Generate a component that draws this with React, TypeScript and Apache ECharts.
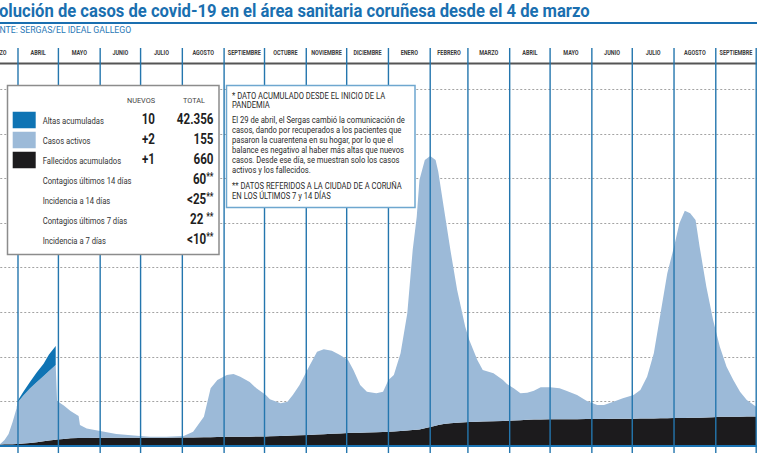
import React, { useEffect, useRef } from "react";
import * as echarts from "echarts";

// ---------- DATA ----------
const DATES = [
  "2020-03-16", "2020-03-19", "2020-03-22", "2020-03-25", "2020-03-28", "2020-03-31",
  "2020-04-01", "2020-04-05", "2020-04-10", "2020-04-15", "2020-04-20", "2020-04-24", "2020-04-29",
  "2020-04-30", "2020-05-05", "2020-05-10", "2020-05-16", "2020-05-17", "2020-05-22",
  "2020-06-01", "2020-06-13", "2020-06-26", "2020-07-03", "2020-07-08", "2020-07-20",
  "2020-08-02", "2020-08-09", "2020-08-17", "2020-08-22", "2020-08-27",
  "2020-09-03", "2020-09-08", "2020-09-13", "2020-09-20", "2020-09-25",
  "2020-10-02", "2020-10-05", "2020-10-13", "2020-10-18", "2020-10-22", "2020-10-27",
  "2020-11-03", "2020-11-09", "2020-11-14", "2020-11-20", "2020-11-26",
  "2020-12-02", "2020-12-06", "2020-12-11", "2020-12-16", "2020-12-23", "2020-12-28",
  "2021-01-01", "2021-01-05", "2021-01-10", "2021-01-15", "2021-01-19", "2021-01-22", "2021-01-24", "2021-01-28",
  "2021-02-01", "2021-02-05", "2021-02-07", "2021-02-11", "2021-02-16", "2021-02-21", "2021-02-27",
  "2021-03-02", "2021-03-08", "2021-03-12", "2021-03-20", "2021-03-27", "2021-03-30",
  "2021-04-04", "2021-04-09", "2021-04-14", "2021-04-19", "2021-04-24",
  "2021-05-01", "2021-05-08", "2021-05-13", "2021-05-21", "2021-05-28",
  "2021-06-05", "2021-06-10", "2021-06-17", "2021-06-24",
  "2021-07-02", "2021-07-07", "2021-07-12", "2021-07-17", "2021-07-22", "2021-07-27",
  "2021-08-01", "2021-08-05", "2021-08-09", "2021-08-13", "2021-08-17", "2021-08-20", "2021-08-25", "2021-08-30",
  "2021-09-04", "2021-09-09", "2021-09-14", "2021-09-19", "2021-09-24", "2021-10-01",
];

const FALLECIDOS = [
  32, 34, 37, 39, 42, 44,
  45, 55, 68, 86, 106, 123, 141,
  144, 159, 171, 179, 180, 182,
  186, 186, 186, 186, 186, 186,
  188, 190, 194, 196, 199,
  206, 207, 208, 210, 211,
  213, 217, 224, 229, 233, 239,
  248, 258, 265, 274, 283,
  291, 295, 299, 304, 311, 316,
  320, 327, 338, 349, 360, 365, 370, 398,
  426, 452, 469, 495, 511, 520, 533,
  538, 544, 547, 555, 562, 566,
  571, 578, 586, 594, 595,
  597, 599, 600, 602, 604,
  605, 607, 609, 610,
  613, 615, 617, 619, 621, 624,
  626, 628, 630, 631, 633, 636, 641, 647,
  655, 656, 657, 658, 659, 660,
];

const ACTIVOS = [
  0, 15, 98, 230, 496, 808,
  941, 1075, 1228, 1351, 1461, 1558, 1675,
  865, 749, 614, 494, 291, 210,
  150, 83, 49, 30, 22, 20,
  36, 131, 463, 1098, 1281,
  1386, 1407, 1346, 1225, 1083,
  930, 830, 733, 764, 910, 1129,
  1530, 1856, 1903, 1863, 1757,
  1637, 1409, 1069, 913, 871, 901,
  1160, 1265, 1740, 2626, 4034, 4776, 5594, 6014,
  6076, 5960, 5681, 4870, 3883, 2978, 2142,
  1839, 1384, 1157, 1075, 918, 824,
  723, 604, 609, 646, 721,
  719, 695, 640, 541, 412,
  314, 312, 384, 459,
  530, 641, 937, 1459, 2354, 3248,
  3842, 4365, 4645, 4586, 4434, 3832, 2931, 2178,
  1571, 1122, 823, 559, 372, 221,
];

// Altas acumuladas: only shown until 29 April 2020
const ALTAS_KNOWN: [string, number][] = [
  ["2020-03-31", 5], ["2020-04-01", 40], ["2020-04-05", 88], ["2020-04-10", 146],
  ["2020-04-15", 217], ["2020-04-20", 276], ["2020-04-24", 370], ["2020-04-29", 426],
];
const ALTAS: (number | null)[] = DATES.map(() => null);
ALTAS_KNOWN.forEach(([d, v]) => { ALTAS[DATES.indexOf(d)] = v; });

const MONTH_STARTS = [
  "2020-03-01", "2020-04-01", "2020-05-01", "2020-06-01", "2020-07-01", "2020-08-01",
  "2020-09-01", "2020-10-01", "2020-11-01", "2020-12-01", "2021-01-01", "2021-02-01",
  "2021-03-01", "2021-04-01", "2021-05-01", "2021-06-01", "2021-07-01", "2021-08-01",
  "2021-09-01", "2021-10-01",
];
const MONTH_NAMES = [
  "ENERO", "FEBRERO", "MARZO", "ABRIL", "MAYO", "JUNIO", "JULIO", "AGOSTO",
  "SEPTIEMBRE", "OCTUBRE", "NOVIEMBRE", "DICIEMBRE",
];
const AXIS_START = "2020-03-04T00:00:00Z";
const AXIS_END = "2021-10-01T12:00:00Z";

const TITLE = "olución de casos de covid-19 en el área sanitaria coruñesa desde el 4 de marzo";
const SOURCE = "NTE: SERGAS/EL IDEAL GALLEGO";
const LEGEND_HEADERS = ["NUEVOS", "TOTAL"];
const LEGEND_ROWS = [
  { label: "Altas acumuladas", nuevos: "10", total: "42.356" },
  { label: "Casos activos", nuevos: "+2", total: "155" },
  { label: "Fallecidos acumulados", nuevos: "+1", total: "660" },
];
const INDICATORS = [
  { label: "Contagios últimos 14 días", value: "60", mark: "**" },
  { label: "Incidencia a 14 días", value: "<25", mark: "**" },
  { label: "Contagios últimos 7 días", value: "22 ", mark: "**" },
  { label: "Incidencia a 7 días", value: "<10", mark: "**" },
];
const NOTE_LINES = [
  "* DATO ACUMULADO DESDE EL INICIO DE LA",
  "PANDEMIA",
  "El 29 de abril, el Sergas cambió la comunicación de",
  "casos, dando por recuperados a los pacientes que",
  "pasaron la cuarentena en su hogar, por lo que el",
  "balance es negativo al haber más altas que nuevos",
  "casos. Desde ese día, se muestran solo los casos",
  "activos y los fallecidos.",
  "** DATOS REFERIDOS A LA CIUDAD DE A CORUÑA",
  "EN LOS ÚLTIMOS 7 y 14 DÍAS",
];

// ---------- STYLE ----------
const C_ALTAS = "#0f74b4";
const C_ACTIVOS = "#9cbad8";
const C_FALL = "#1c1b1d";
const C_BLUE = "#1a6fb0";
const C_LINE = "#2476ae";
const FONT = "Roboto, 'Noto Sans', sans-serif";

const ts = (d: string) => Date.parse(d.length === 10 ? d + "T00:00:00Z" : d);

function fit(text: string, size: number, weight: string, target: number) {
  const ctx = document.createElement("canvas").getContext("2d");
  if (!ctx) return 1;
  ctx.font = `${weight} ${size}px ${FONT}`;
  const w = ctx.measureText(text).width;
  return w > 0 ? target / w : 1;
}

function txt(text: string, x: number, y: number, o: any = {}) {
  return {
    type: "text",
    x,
    y,
    scaleX: o.scaleX ?? 1,
    z: o.z ?? 100,
    silent: true,
    style: {
      text,
      fontSize: o.size ?? 8,
      fontFamily: FONT,
      fontWeight: o.weight ?? "normal",
      fill: o.color ?? "#333",
      align: o.align ?? "left",
      verticalAlign: "middle",
    },
  };
}

export default function App() {
  const ref = useRef<HTMLDivElement>(null);

  useEffect(() => {
    const el = ref.current!;
    const chart = echarts.init(el, undefined, { renderer: "svg" });

    const mk = (vals: (number | null)[]) =>
      DATES.map((d, i) => [ts(d), vals[i] === null ? "-" : vals[i]]);

    const areaSeries = (name: string, vals: (number | null)[], color: string) => ({
      type: "line",
      name,
      stack: "total",
      data: mk(vals),
      symbol: "none",
      showSymbol: false,
      lineStyle: { width: 0 },
      areaStyle: { color, opacity: 1 },
      silent: true,
    });

    chart.setOption({
      animation: false,
      backgroundColor: "#ffffff",
      grid: {
        left: -19.72,
        right: 0.13,
        top: 63.5,
        bottom: 17,
        containLabel: false,
        outerBoundsMode: "none",
      },
      xAxis: {
        type: "time",
        min: ts(AXIS_START),
        max: ts(AXIS_END),
        offset: 1.5,
        z: 3,
        axisLine: { show: true, lineStyle: { color: "#1b74b4", width: 2.2 } },
        axisTick: { show: false },
        axisLabel: { show: false },
        splitLine: { show: false },
      },
      yAxis: {
        type: "value",
        min: 0,
        max: 8576,
        interval: 1000,
        axisLine: { show: false },
        axisTick: { show: false },
        axisLabel: { show: false },
        splitLine: { show: true, lineStyle: { color: "#a3a3a3", width: 1, type: [2, 2] } },
      },
      series: [
        areaSeries("Fallecidos acumulados", FALLECIDOS, C_FALL),
        areaSeries("Casos activos", ACTIVOS, C_ACTIVOS),
        areaSeries("Altas acumuladas", ALTAS, C_ALTAS),
      ],
    });

    const pxT = (t: number) => chart.convertToPixel({ xAxisIndex: 0 }, t) as number;
    const minT = ts(AXIS_START);
    const maxT = ts(AXIS_END);

    const g: any[] = [];

    // header line
    g.push({
      type: "line", z: 40, silent: true,
      shape: { x1: 0, y1: 63.5, x2: 757, y2: 63.5 },
      style: { stroke: "#555555", lineWidth: 2.2 },
    });

    // month dividers
    MONTH_STARTS.forEach((d) => {
      const t = ts(d);
      if (t < minT || t > maxT) return;
      const x = pxT(t);
      g.push({
        type: "line", z: 50, silent: true,
        shape: { x1: x, y1: 48, x2: x, y2: 453 },
        style: { stroke: C_LINE, lineWidth: 1.4 },
      });
    });

    // month labels
    const mScale = fit("SEPTIEMBRE", 7, "bold", 33);
    for (let i = 0; i < MONTH_STARTS.length - 1; i++) {
      const mid = (ts(MONTH_STARTS[i]) + ts(MONTH_STARTS[i + 1])) / 2;
      const x = pxT(mid);
      const name = MONTH_NAMES[new Date(ts(MONTH_STARTS[i])).getUTCMonth()];
      g.push(txt(name, x, 52.5, { size: 7, weight: "bold", color: "#3a3a3a", align: "center", scaleX: mScale }));
    }

    // title
    g.push(txt(TITLE, -1, 10.5, { size: 18, weight: "bold", color: C_BLUE, scaleX: fit(TITLE, 18, "bold", 591) }));
    g.push({
      type: "line", z: 100, silent: true,
      shape: { x1: 0, y1: 23, x2: 757, y2: 23 },
      style: { stroke: C_BLUE, lineWidth: 2 },
    });
    g.push(txt(SOURCE, -0.5, 30, { size: 9.5, color: "#2b79b6", scaleX: fit(SOURCE, 9.5, "normal", 132) }));

    // legend box
    g.push({
      type: "rect", z: 99, silent: true,
      shape: { x: 7.5, y: 85.5, width: 211.5, height: 169 },
      style: { fill: "#ffffff", stroke: "#8c8c8c", lineWidth: 1.5 },
    });
    const hScale = fit("NUEVOS", 8, "normal", 28);
    g.push(txt(LEGEND_HEADERS[0], 141, 100.5, { size: 8, color: "#444", align: "center", scaleX: hScale }));
    g.push(txt(LEGEND_HEADERS[1], 194, 100.5, { size: 8, color: "#444", align: "center", scaleX: hScale }));
    const lScale = fit("Contagios últimos 14 días", 8.5, "normal", 89);
    const nScale = fit("42.356", 14.5, "bold", 36.7);
    const swatchColors = [C_ALTAS, C_ACTIVOS, C_FALL];
    LEGEND_ROWS.forEach((r, i) => {
      const yc = 120 + i * 20;
      g.push({
        type: "rect", z: 100, silent: true,
        shape: { x: 12.7, y: yc - 8.3, width: 23, height: 16.6 },
        style: { fill: swatchColors[i] },
      });
      g.push(txt(r.label, 42.7, yc + 1, { size: 8.5, color: "#333", scaleX: lScale }));
      g.push(txt(r.nuevos, 155, yc - 1, { size: 14.5, weight: "bold", color: "#1f1f1f", align: "right", scaleX: nScale }));
      g.push(txt(r.total, 213.5, yc - 1, { size: 14.5, weight: "bold", color: "#1f1f1f", align: "right", scaleX: nScale }));
    });
    INDICATORS.forEach((r, i) => {
      const yc = 180 + i * 20.1;
      g.push(txt(r.label, 42.7, yc + 1, { size: 8.5, color: "#333", scaleX: lScale }));
      g.push({
        type: "text", x: 213.5, y: yc - 1, scaleX: nScale, z: 100, silent: true,
        style: {
          text: `{v|${r.value}}{s|${r.mark}}`,
          align: "right",
          verticalAlign: "middle",
          rich: {
            v: { fontSize: 14.5, fontWeight: "bold", fontFamily: FONT, fill: "#1f1f1f", lineHeight: 15 },
            s: { fontSize: 10, fontWeight: "bold", fontFamily: FONT, fill: "#1f1f1f", verticalAlign: "top", lineHeight: 15 },
          },
        },
      });
    });

    // note box
    g.push({
      type: "rect", z: 99, silent: true,
      shape: { x: 226.5, y: 85.5, width: 188.5, height: 122 },
      style: { fill: "#ffffff", stroke: "#6ea7cf", lineWidth: 1.5 },
    });
    const noteY = [96, 105.5, 120.5, 130.5, 140.5, 150.5, 160.5, 170.5, 186, 196.5];
    const nsScale = fit(NOTE_LINES[2], 8.5, "normal", 173);
    NOTE_LINES.forEach((line, i) => {
      g.push(txt(line, 232, noteY[i], { size: 8.5, color: "#2a2a2a", scaleX: nsScale }));
    });

    chart.setOption({ graphic: g });

    return () => chart.dispose();
  }, []);

  return (
    <div
      ref={ref}
      style={{ position: "fixed", left: 0, top: 0, width: 757, height: 463, background: "#fff", overflow: "hidden" }}
    />
  );
}
